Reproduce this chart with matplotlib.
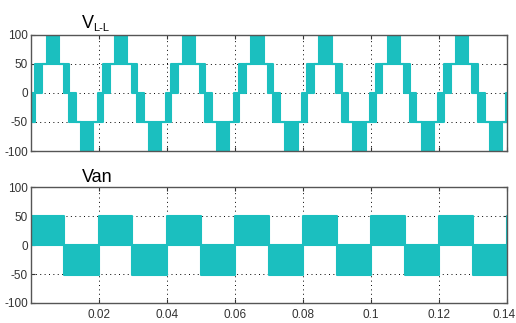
import matplotlib.pyplot as plt
import matplotlib.transforms as mtransforms

# =========================================================
# DATA (50 Hz -> 0.02 s per cycle)
# =========================================================

period = 0.02
cycle_starts = [0.0, 0.02, 0.04, 0.06, 0.08, 0.10, 0.12, 0.14]

# line-to-line voltage: segment start inside a cycle, PWM band low / high
vll_edges = [0.0, 0.0013, 0.0033, 0.0048, 0.0084, 0.0097,
             0.0113, 0.0133, 0.0148, 0.0184, 0.0197]
vll_low = [-50, 0, 50, 50, 50, 0, -50, -50, -100, -50, -50]
vll_high = [0, 50, 50, 100, 50, 50, 0, -50, -50, -50, 0]

# phase voltage
van_edges = [0.0, 0.0099]
van_low = [0, -51]
van_high = [51, 0]

xticks = [0.02, 0.04, 0.06, 0.08, 0.10, 0.12, 0.14]
xtick_labels = ["0.02", "0.04", "0.06", "0.08", "0.1", "0.12", "0.14"]
yticks = [-100, -50, 0, 50, 100]

wave_color = "#1BBFBF"
tick_font = ["Liberation Sans", "DejaVu Sans"]


def build_trace(edges, low, high):
    """
    Repeat one cycle of band edges over all cycle starts.
    """
    t, lo, hi = [], [], []
    for c in cycle_starts:
        for e, l, h in zip(edges, low, high):
            t.append(c + e)
            lo.append(l)
            hi.append(h)
    t.append(cycle_starts[-1] + period)
    lo.append(lo[-1])
    hi.append(hi[-1])
    return t, lo, hi


def style_axes(ax, show_xlabels):
    ax.set_xlim(0, 0.14)
    ax.set_ylim(-100, 100)
    ax.set_xticks(xticks)
    ax.set_yticks(yticks)
    ax.set_yticklabels([str(v) for v in yticks], family=tick_font,
                       fontsize=8.5)
    if show_xlabels:
        ax.set_xticklabels(xtick_labels, family=tick_font, fontsize=8.5)
    else:
        ax.set_xticklabels([])
    ax.tick_params(direction="in", top=True, right=True, length=3,
                   width=0.8, colors="#333333", pad=2)
    ax.tick_params(axis="x", pad=4)
    ax.grid(True, linestyle=(0, (1, 3.5)), color="black", linewidth=0.7)
    ax.set_axisbelow(True)
    for s in ax.spines.values():
        s.set_color("#555555")
        s.set_linewidth(1.0)


def draw_trace(ax, edges, low, high):
    t, lo, hi = build_trace(edges, low, high)
    ax.fill_between(t, lo, hi, step="post", color=wave_color, linewidth=0)
    ax.step(t, lo, where="post", color=wave_color, linewidth=1.5)
    ax.step(t, hi, where="post", color=wave_color, linewidth=1.5)


# =========================================================
# FIGURE
# =========================================================

fig = plt.figure(figsize=(5.16, 3.23), dpi=100)

ax_top = fig.add_axes([0.0593, 0.5325, 0.924, 0.36])
draw_trace(ax_top, vll_edges, vll_low, vll_high)
style_axes(ax_top, show_xlabels=False)

ax_bot = fig.add_axes([0.0593, 0.062, 0.924, 0.358])
draw_trace(ax_bot, van_edges, van_low, van_high)
style_axes(ax_bot, show_xlabels=True)

# keep the last tick label just inside the figure edge
last = ax_bot.get_xticklabels()[-1]
shift = mtransforms.ScaledTranslation(-3 / 100, 0, fig.dpi_scale_trans)
last.set_transform(last.get_transform() + shift)

# titles
fig.text(82 / 516, 1 - 28 / 323, "V", family="Liberation Sans",
         fontsize=13, va="baseline", ha="left")
fig.text(93 / 516, 1 - 31 / 323, "L-L", family="Liberation Sans",
         fontsize=8, va="baseline", ha="left")
fig.text(82 / 516, 1 - 182 / 323, "Van", family="Liberation Sans",
         fontsize=13, va="baseline", ha="left")

fig.savefig("out.png", dpi=100)
